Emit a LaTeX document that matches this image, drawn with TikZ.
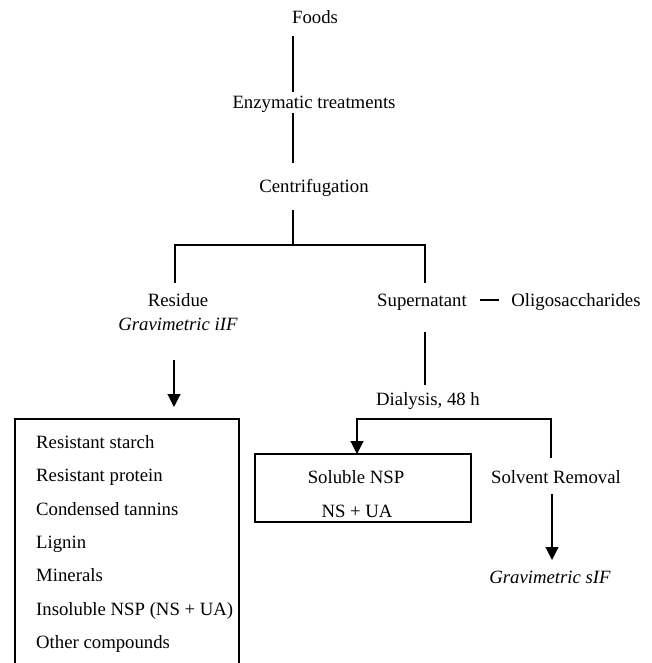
\documentclass[tikz,border=0pt]{standalone}
\usepackage{fontspec}
\setmainfont{Liberation Serif}
\usetikzlibrary{arrows.meta}
\begin{document}
\begin{tikzpicture}[x=1pt,y=-1pt,
  txt/.style={font=\fontsize{18.75}{22}\selectfont, inner sep=0pt, anchor=base},
  itxt/.style={font=\fontsize{18.75}{22}\selectfont\itshape, inner sep=0pt, anchor=base},
  ltxt/.style={font=\fontsize{18.75}{22}\selectfont, inner sep=0pt, anchor=base west},
  ln/.style={line width=1.1pt},
  arr/.style={line width=1.1pt, -{Triangle[width=13pt,length=13pt]}},
  bx/.style={draw, line width=1.1pt, inner sep=0pt}]
\useasboundingbox (0,0) rectangle (652,663);
% text nodes
\node[txt] (foods) at (315,24) {Foods};
\node[txt] (enz) at (314,109) {Enzymatic treatments};
\node[txt] (cent) at (314,193) {Centrifugation};
\node[txt] (res) at (178,306) {Residue};
\node[itxt] (grvi) at (178,330) {Gravimetric iIF};
\node[txt] (sup) at (422,306) {Supernatant};
\node[txt] (oli) at (576,306) {Oligosaccharides};
\node[txt] (dia) at (428,405) {Dialysis, 48 h};
\node[bx, minimum width=216pt, minimum height=68pt] (sol) at (363,488) {};
\node[txt] (solt) at (356,483) {Soluble NSP};
\node[txt] (nsua) at (357,517) {NS + UA};
\node[txt] (solv) at (556,483) {Solvent Removal};
\node[itxt] (grvs) at (550,583) {Gravimetric sIF};
\node[bx, minimum width=224pt, minimum height=261pt] (lbox) at (127,549.5) {};
\node[ltxt] (i1) at (36,448) {Resistant starch};
\node[ltxt] (i2) at (36,481) {Resistant protein};
\node[ltxt] (i3) at (36,515) {Condensed tannins};
\node[ltxt] (i4) at (36,548) {Lignin};
\node[ltxt] (i5) at (36,581) {Minerals};
\node[ltxt] (i6) at (36,615) {Insoluble NSP (NS + UA)};
\node[ltxt] (i7) at (36,648) {Other compounds};
% coordinates
\coordinate (a1) at (293,36);  \coordinate (a2) at (293,92);
\coordinate (b1) at (293,113); \coordinate (b2) at (293,163);
\coordinate (c1) at (293,210); \coordinate (c2) at (293,245);
\coordinate (hl) at (175,245); \coordinate (hr) at (425,245);
\coordinate (hl2) at (175,283); \coordinate (hr2) at (425,283);
\coordinate (s1) at (425,332); \coordinate (s2) at (425,385);
\coordinate (d1) at (480,300); \coordinate (d2) at (499,300);
\coordinate (r1) at (174,360); \coordinate (r2) at (174,407);
\coordinate (e1) at (357,419); \coordinate (e2) at (551,419);
\coordinate (e3) at (551,458); \coordinate (e4) at (357,454);
\coordinate (g1) at (552,494); \coordinate (g2) at (552,560);
% connectors
\draw[ln] (a1) -- (a2);
\draw[ln] (b1) -- (b2);
\draw[ln] (c1) -- (c2);
\draw[ln] (hl2) -- (hl) -- (hr) -- (hr2);
\draw[ln] (s1) -- (s2);
\draw[ln] (d1) -- (d2);
\draw[arr] (r1) -- (r2);
\draw[arr] (e3) -- (e2) -- (e1) -- (e4);
\draw[arr] (g1) -- (g2);
\end{tikzpicture}
\end{document}
